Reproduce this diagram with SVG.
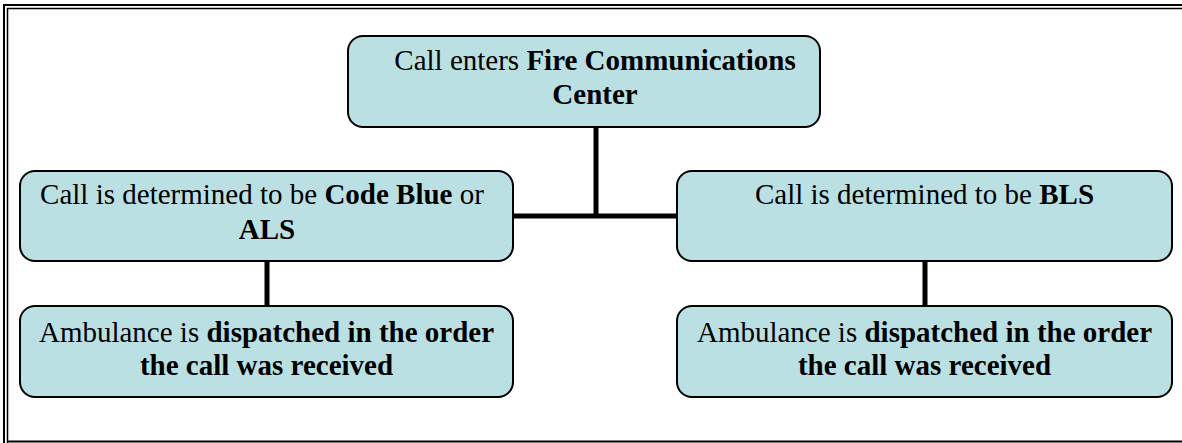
<svg xmlns="http://www.w3.org/2000/svg" width="1182" height="443" viewBox="0 0 1182 443">
<style>
.box{fill:#bae0e3;stroke:#000;stroke-width:2}
.t{font-family:"Liberation Serif","DejaVu Serif",serif;font-size:29px;fill:#000;text-anchor:middle}
.b{font-weight:bold}
.c{stroke:#000;stroke-width:5;fill:none}
.f{stroke:#000;fill:none}
</style>
<rect width="1182" height="443" fill="#fff"/>
<g id="frame">
<path class="f" stroke-width="2" d="M4 443 V5 H1182"/>
<path class="f" stroke-width="1.5" d="M7.5 443 V8.5 H1182"/>
<path class="f" stroke-width="2" d="M7 441.5 H1182"/>
</g>
<g id="connectors">
<path class="c" d="M596 127 V216"/>
<path class="c" d="M513 216 H678"/>
<path class="c" d="M267 261 V306"/>
<path class="c" d="M925 261 V306"/>
</g>
<g id="n-top">
<rect class="box" x="348" y="36" width="472" height="91" rx="15"/>
<text class="t" x="595" y="70">Call enters <tspan class="b">Fire Communications</tspan></text>
<text class="t b" x="595" y="104">Center</text>
</g>
<g id="n-als">
<rect class="box" x="20" y="171" width="493" height="90" rx="15"/>
<text class="t" x="262" y="204">Call is determined to be <tspan class="b">Code Blue</tspan> or</text>
<text class="t b" x="267" y="239">ALS</text>
</g>
<g id="n-bls">
<rect class="box" x="677" y="171" width="495" height="90" rx="15"/>
<text class="t" x="924.5" y="204">Call is determined to be <tspan class="b">BLS</tspan></text>
</g>
<g id="n-als-amb">
<rect class="box" x="20" y="306" width="493" height="91" rx="15"/>
<text class="t" x="266.5" y="342">Ambulance is <tspan class="b">dispatched in the order</tspan></text>
<text class="t b" x="266.5" y="375">the call was received</text>
</g>
<g id="n-bls-amb">
<rect class="box" x="677" y="306" width="495" height="91" rx="15"/>
<text class="t" x="924.5" y="342">Ambulance is <tspan class="b">dispatched in the order</tspan></text>
<text class="t b" x="924.5" y="375">the call was received</text>
</g>
</svg>
